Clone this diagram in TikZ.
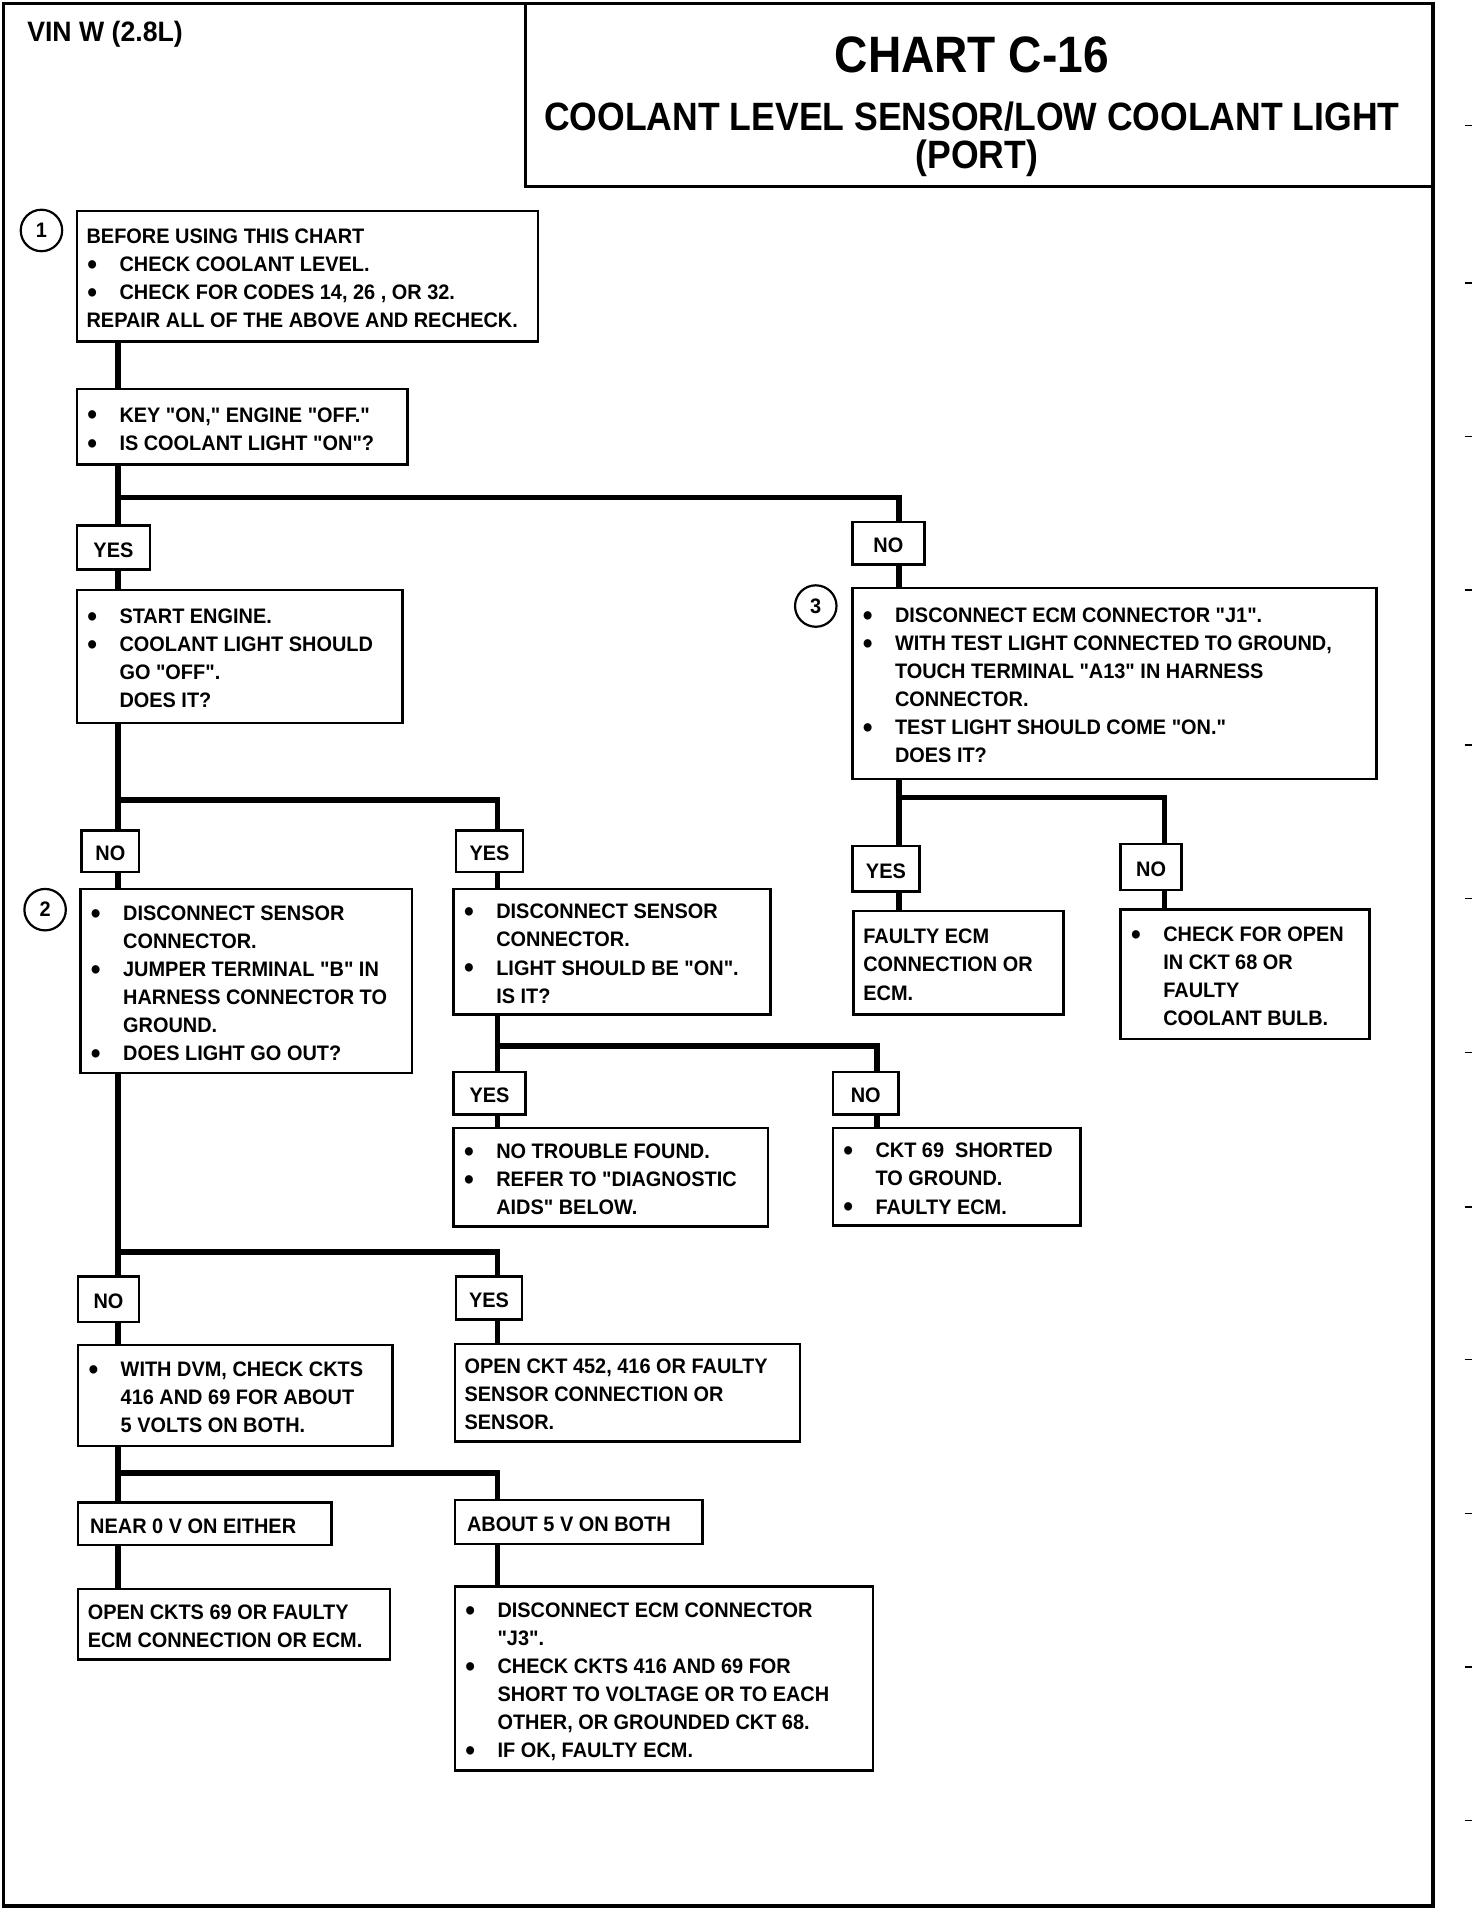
\documentclass[tikz,border=0pt]{standalone}
\usepackage{fontspec}
\setmainfont{Liberation Sans}[Ligatures=TeXOff, FakeStretch=0.95]
\newfontfamily\titlefont{Liberation Sans}[Ligatures=TeXOff, FakeStretch=0.9]
\newcommand\ibu{\makebox[13.5pt][l]{\hspace*{0.3pt}\raisebox{-1.2pt}{\fontsize{12}{12}\selectfont\textbullet}}}
\newcommand\iind{\hspace*{13.5pt}}
\newcommand\bodyfont{\fontsize{8.6}{11.5}\selectfont\bfseries}
\newcommand\chbox[6]{%
  \pgfmathsetlengthmacro\bw{(#4-#2)*0.5pt}%
  \pgfmathsetlengthmacro\bh{(#5-#3)*0.5pt}%
  \node[txtbox, minimum width=\bw, minimum height=\bh] (#1) at (#2,#3)
    {\hbox to \bw{\hspace*{4pt}\raisebox{-1.5pt}[\height][\depth]{\begin{tabular}{@{}l@{}}#6\end{tabular}}\hss}};}
\newcommand\labbox[6]{%
  \pgfmathsetlengthmacro\bw{(#4-#2)*0.5pt}%
  \pgfmathsetlengthmacro\bh{(#5-#3)*0.5pt}%
  \node[txtbox, minimum width=\bw, minimum height=\bh] (#1) at (#2,#3) {\raisebox{-1pt}[\height][\depth]{#6}};}
\newcommand\lablbox[6]{%
  \pgfmathsetlengthmacro\bw{(#4-#2)*0.5pt}%
  \pgfmathsetlengthmacro\bh{(#5-#3)*0.5pt}%
  \node[txtbox, minimum width=\bw, minimum height=\bh] (#1) at (#2,#3)
    {\hbox to \bw{\hspace*{5pt}\raisebox{-1pt}[\height][\depth]{#6}\hss}};}
\begin{document}
\begin{tikzpicture}[x=0.5pt,y=-0.5pt,
  txtbox/.style={draw, line width=1pt, anchor=north west, inner sep=0pt, font=\bodyfont},
  conn/.style={line width=2.4pt, line join=miter},
  numcirc/.style={circle, draw, line width=0.9pt, minimum size=17pt, inner sep=0pt, font=\bodyfont},
  frameline/.style={line width=1.5pt},
  tick/.style={line width=0.6pt}]
\useasboundingbox (0,0) rectangle (1207,1568);
% frame and title block
\draw[frameline] (3,3) rectangle (1175,1563);
\draw[line width=1.1pt] (431,3) -- (431,153) -- (1175,153);
\node[anchor=west, inner sep=0pt, font=\fontsize{11.5}{13}\selectfont\bfseries] (vin) at (22,28) {VIN W (2.8L)};
\node[font=\titlefont\fontsize{21}{24}\selectfont\bfseries] (t1) at (797,45) {CHART C-16};
\node[font=\titlefont\fontsize{16.2}{19}\selectfont\bfseries] (t2) at (797,96) {COOLANT LEVEL SENSOR/LOW COOLANT LIGHT};
\node[font=\titlefont\fontsize{16.2}{19}\selectfont\bfseries] (t3) at (801,130) {(PORT)};
% scan ticks at right margin
\foreach \ty in {103,232,358,484,611,737,863,990,1115,1241,1367,1493}
  \draw[tick] (1201,\ty) -- (1207,\ty);
% trunk coordinates
\coordinate (tA) at (97,0);
\coordinate (tB) at (408,0);
\coordinate (tC) at (719,0);
\coordinate (tR) at (737,0);
\coordinate (tD) at (955,0);
\coordinate (br1) at (0,408);
\coordinate (br2) at (0,656);
\coordinate (br3) at (0,858);
\coordinate (br4) at (0,1027);
\coordinate (br5) at (0,1208);
\coordinate (br6) at (0,654);
% circles
\node[numcirc] (c1) at (34,189) {1};
\node[numcirc] (c2) at (37,746) {2};
\node[numcirc] (c3) at (669,497) {3};
% boxes
\chbox{b1}{62}{172}{440}{279}{BEFORE USING THIS CHART\\
\ibu CHECK COOLANT LEVEL.\\
\ibu CHECK FOR CODES 14, 26 , OR 32.\\
REPAIR ALL OF THE ABOVE AND RECHECK.}
\chbox{b2}{62}{318}{333}{380}{\ibu KEY "ON," ENGINE "OFF."\\
\ibu IS COOLANT LIGHT "ON"?}
\labbox{yes1}{62}{430}{122}{466}{YES}
\labbox{no1}{698}{427}{757}{462}{NO}
\chbox{b3}{62}{483}{329}{592}{\ibu START ENGINE.\\
\ibu COOLANT LIGHT SHOULD\\
\iind GO "OFF".\\
\iind DOES IT?}
\labbox{no2}{66}{680}{113}{714}{NO}
\labbox{yes2}{373}{680}{428}{714}{YES}
\chbox{b4}{65}{728}{337}{879}{\ibu DISCONNECT SENSOR\\
\iind CONNECTOR.\\
\ibu JUMPER TERMINAL "B" IN\\
\iind HARNESS CONNECTOR TO\\
\iind GROUND.\\
\ibu DOES LIGHT GO OUT?}
\chbox{b5}{371}{728}{631}{831}{\ibu DISCONNECT SENSOR\\
\iind CONNECTOR.\\
\ibu LIGHT SHOULD BE "ON".\\
\iind IS IT?}
\labbox{yes3}{371}{878}{430}{913}{YES}
\labbox{no3}{682}{878}{736}{913}{NO}
\chbox{b6}{371}{924}{629}{1005}{\ibu NO TROUBLE FOUND.\\
\ibu REFER TO "DIAGNOSTIC\\
\iind AIDS" BELOW.}
\chbox{b7}{682}{924}{885}{1004}{\ibu CKT 69\ \ SHORTED\\
\iind TO GROUND.\\
\ibu FAULTY ECM.}
\labbox{no4}{63}{1046}{113}{1083}{NO}
\labbox{yes4}{373}{1046}{427}{1081}{YES}
\chbox{b8}{63}{1102}{321}{1185}{\ibu WITH DVM, CHECK CKTS\\
\iind 416 AND 69 FOR ABOUT\\
\iind 5 VOLTS ON BOTH.}
\chbox{b9}{372}{1101}{655}{1181}{OPEN CKT 452, 416 OR FAULTY\\
SENSOR CONNECTION OR\\
SENSOR.}
\lablbox{near}{63}{1231}{271}{1266}{NEAR 0 V ON EITHER}
\lablbox{about}{372}{1229}{575}{1265}{ABOUT 5 V ON BOTH}
\chbox{b10}{63}{1302}{319}{1360}{OPEN CKTS 69 OR FAULTY\\
ECM CONNECTION OR ECM.}
\chbox{b11}{372}{1300}{715}{1451}{\ibu DISCONNECT ECM CONNECTOR\\
\iind "J3".\\
\ibu CHECK CKTS 416 AND 69 FOR\\
\iind SHORT TO VOLTAGE OR TO EACH\\
\iind OTHER, OR GROUNDED CKT 68.\\
\ibu IF OK, FAULTY ECM.}
\chbox{b12}{698}{481}{1128}{638}{\ibu DISCONNECT ECM CONNECTOR "J1".\\
\ibu WITH TEST LIGHT CONNECTED TO GROUND,\\
\iind TOUCH TERMINAL "A13" IN HARNESS\\
\iind CONNECTOR.\\
\ibu TEST LIGHT SHOULD COME "ON."\\
\iind DOES IT?}
\labbox{yes5}{698}{693}{753}{730}{YES}
\labbox{no5}{918}{691}{968}{729}{NO}
\chbox{b13}{699}{746}{871}{831}{FAULTY ECM\\
CONNECTION OR\\
ECM.}
\chbox{b14}{918}{745}{1122}{851}{\ibu CHECK FOR OPEN\\
\iind IN CKT 68 OR\\
\iind FAULTY\\
\iind COOLANT BULB.}
% connectors
\draw[conn] (b1.south -| tA) -- (b2.north -| tA);
\draw[conn] (b2.south -| tA) -- (yes1.north -| tA);
\draw[conn] (tA |- br1) -| (no1.north -| tR);
\draw[conn] (yes1.south -| tA) -- (b3.north -| tA);
\draw[conn] (no1.south -| tR) -- (b12.north -| tR);
\draw[conn] (b3.south -| tA) -- (no2.north -| tA);
\draw[conn] (tA |- br2) -| (yes2.north -| tB);
\draw[conn] (no2.south -| tA) -- (b4.north -| tA);
\draw[conn] (yes2.south -| tB) -- (b5.north -| tB);
\draw[conn] (b5.south -| tB) -- (yes3.north -| tB);
\draw[conn] (tB |- br3) -| (no3.north -| tC);
\draw[conn] (yes3.south -| tB) -- (b6.north -| tB);
\draw[conn] (no3.south -| tC) -- (b7.north -| tC);
\draw[conn] (b4.south -| tA) -- (no4.north -| tA);
\draw[conn] (tA |- br4) -| (yes4.north -| tB);
\draw[conn] (no4.south -| tA) -- (b8.north -| tA);
\draw[conn] (yes4.south -| tB) -- (b9.north -| tB);
\draw[conn] (b8.south -| tA) -- (near.north -| tA);
\draw[conn] (tA |- br5) -| (about.north -| tB);
\draw[conn] (near.south -| tA) -- (b10.north -| tA);
\draw[conn] (about.south -| tB) -- (b11.north -| tB);
\draw[conn] (b12.south -| tR) -- (yes5.north -| tR);
\draw[conn] (tR |- br6) -| (no5.north -| tD);
\draw[conn] (yes5.south -| tR) -- (b13.north -| tR);
\draw[conn] (no5.south -| tD) -- (b14.north -| tD);
\end{tikzpicture}
\end{document}
